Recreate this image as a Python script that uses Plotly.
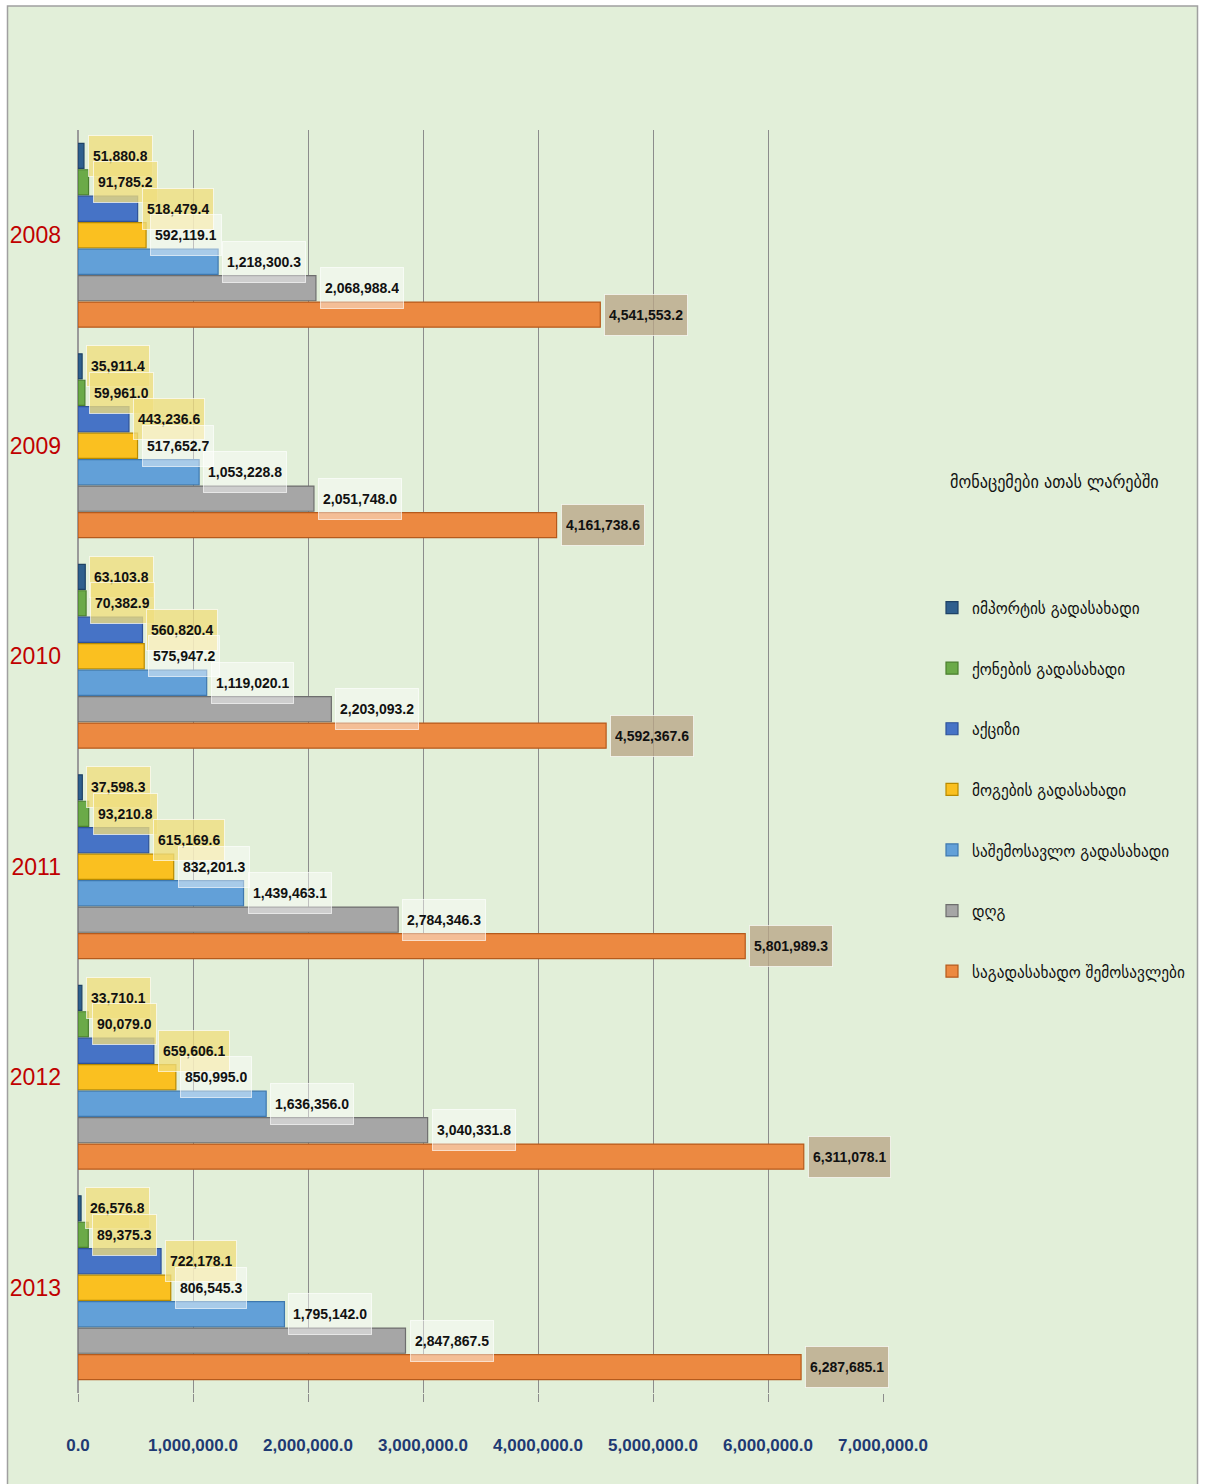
import plotly.graph_objects as go

# Tax revenue structure by year, thousand GEL
years = ["2008", "2009", "2010", "2011", "2012", "2013"]

series_names = [
    "იმპორტის გადასახადი",
    "ქონების გადასახადი",
    "აქციზი",
    "მოგების გადასახადი",
    "საშემოსავლო გადასახადი",
    "დღგ",
    "საგადასახადო შემოსავლები",
]

import_tax = [51880.8, 35911.4, 63103.8, 37598.3, 33710.1, 26576.8]
property_tax = [91785.2, 59961.0, 70382.9, 93210.8, 90079.0, 89375.3]
excise = [518479.4, 443236.6, 560820.4, 615169.6, 659606.1, 722178.1]
profit_tax = [592119.1, 517652.7, 575947.2, 832201.3, 850995.0, 806545.3]
income_tax = [1218300.3, 1053228.8, 1119020.1, 1439463.1, 1636356.0, 1795142.0]
vat = [2068988.4, 2051748.0, 2203093.2, 2784346.3, 3040331.8, 2847867.5]
tax_revenue = [4541553.2, 4161738.6, 4592367.6, 5801989.3, 6311078.1, 6287685.1]

series_values = [import_tax, property_tax, excise, profit_tax, income_tax, vat, tax_revenue]

x_tick_values = [0, 1000000, 2000000, 3000000, 4000000, 5000000, 6000000, 7000000]
x_tick_labels = ["0.0", "1,000,000.0", "2,000,000.0", "3,000,000.0",
                 "4,000,000.0", "5,000,000.0", "6,000,000.0", "7,000,000.0"]

legend_title = "მონაცემები ათას ლარებში"

# styling
fill_colors = ["#2F5F8E", "#6BAA48", "#4673C6", "#FAC020", "#62A0D8", "#A6A6A6", "#EC8941"]
edge_colors = ["#1E4266", "#4A7F2E", "#2E5299", "#B88A00", "#3E78AE", "#6E6E6E", "#B55A1C"]
label_bg = ["rgba(240,222,125,0.78)", "rgba(240,222,125,0.78)", "rgba(240,222,125,0.78)",
            "rgba(255,255,255,0.45)", "rgba(255,255,255,0.45)", "rgba(255,255,255,0.45)",
            "rgba(185,165,135,0.78)"]

W, H = 1205, 1484
ML, MR, MT, MB = 78, 322, 130, 91
plot_w = W - ML - MR
plot_h = H - MT - MB
cat_px = plot_h / len(years)
bargap = 0.12
n = len(series_names)

num_font = "Liberation Sans, Arial, sans-serif"
geo_font = "DejaVu Sans Condensed, DejaVu Sans, sans-serif"

fig = go.Figure()
for i, (name, vals) in enumerate(zip(series_names, series_values)):
    fig.add_trace(go.Bar(
        y=years, x=vals, name=name, orientation="h",
        marker=dict(color=fill_colors[i], line=dict(color=edge_colors[i], width=1.2)),
        legendgroup=f"g{i}",
        hovertemplate="%{y}: %{x:,.1f}<extra>" + name + "</extra>",
    ))

# value labels in translucent boxes next to each bar end
annotations = []
slot = (1 - bargap) / n
for i, vals in enumerate(series_values):
    offset = -(1 - bargap) / 2 + (i + 0.5) * slot
    for j, v in enumerate(vals):
        annotations.append(dict(
            x=v, y=j, xref="x", yref="y",
            text=f"<b>{v:,.1f}</b>", showarrow=False,
            xanchor="left", yanchor="middle", xshift=4, yshift=-offset * cat_px,
            font=dict(family=num_font, size=14, color="#111111"),
            bgcolor=label_bg[i], bordercolor="rgba(255,255,255,0.65)", borderwidth=1,
            borderpad=4, height=32,
        ))

def px_to_paper_x(px):
    return (px - ML) / plot_w

def px_to_paper_y(py):
    return (H - MB - py) / plot_h

annotations.append(dict(
    x=px_to_paper_x(948), y=px_to_paper_y(482), xref="paper", yref="paper",
    text=legend_title, showarrow=False, xanchor="left", yanchor="middle",
    font=dict(family=geo_font, size=18, color="#111111"),
))

shapes = [dict(
    type="rect", xref="paper", yref="paper", layer="below",
    x0=px_to_paper_x(7.5), x1=px_to_paper_x(1197.5),
    y0=px_to_paper_y(1490), y1=px_to_paper_y(6),
    fillcolor="#E2EFD9", line=dict(color="#A0A0A0", width=1.5),
)]

fig.update_layout(
    template="none",
    width=W, height=H,
    margin=dict(l=ML, r=MR, t=MT, b=MB, autoexpand=False),
    paper_bgcolor="white", plot_bgcolor="rgba(0,0,0,0)",
    barmode="group", bargap=bargap, bargroupgap=0.05,
    showlegend=True,
    legend=dict(
        x=px_to_paper_x(932), y=px_to_paper_y(590), xanchor="left", yanchor="top",
        traceorder="grouped", tracegroupgap=35.5,
        font=dict(family=geo_font, size=17, color="#111111"),
        bgcolor="rgba(0,0,0,0)", itemwidth=30,
    ),
    xaxis=dict(
        range=[0, 7000000], tickvals=x_tick_values, ticktext=x_tick_labels,
        automargin=False, tickangle=0,
        showgrid=True, gridcolor="#8C8C8C", gridwidth=1,
        zeroline=True, zerolinecolor="#9A9A9A", zerolinewidth=1.5,
        ticks="outside", ticklen=8, tickcolor="#8C8C8C",
        ticklabelstandoff=29,
        tickfont=dict(family=num_font, size=17, color="#1F3A73", weight="bold"),
        showline=False, fixedrange=True,
    ),
    yaxis=dict(
        type="category", range=[len(years) - 0.5, -0.5], automargin=False,
        showgrid=False, zeroline=False, showline=False,
        ticks="", ticklabelstandoff=16,
        tickfont=dict(family=num_font, size=23, color="#C00000"),
        fixedrange=True,
    ),
    annotations=annotations,
    shapes=shapes,
)

fig.write_html("out.html")
